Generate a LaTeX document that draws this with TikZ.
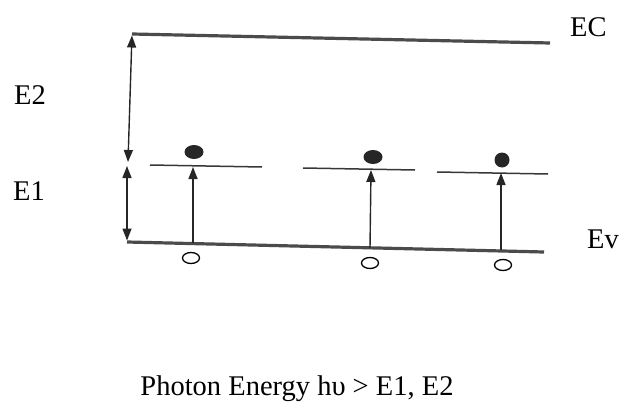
\documentclass[tikz,border=0pt]{standalone}
\usepackage{fontspec}
\setmainfont{Liberation Serif}
\usetikzlibrary{arrows.meta, positioning, shapes.geometric}
\definecolor{bandgray}{RGB}{75, 75, 75}
\definecolor{levelgray}{RGB}{55, 55, 55}

\begin{document}
\begin{tikzpicture}[
      x=1pt, y=-1pt,
      lbl/.style={font=\fontsize{28.5}{32}\selectfont, inner sep=0pt},
      band/.style={line width=3.2pt, draw=bandgray},
      level/.style={line width=1.5pt, draw=levelgray},
      arr/.style={-{Triangle[length=12pt, width=9pt]}, line width=1.4pt, draw=black!85, fill=black!85},
      darr/.style={{Triangle[length=12pt, width=9pt]}-{Triangle[length=12pt, width=9pt]}, line width=1.4pt, draw=black!85, fill=black!85},
      electron/.style={ellipse, fill=black!85, minimum width=19pt, minimum height=14pt, inner sep=0pt},
      hole/.style={ellipse, draw, line width=1.3pt, minimum width=17pt, minimum height=11pt, inner sep=0pt}
    ]
      \useasboundingbox (0,0) rectangle (623,409);

      % band edges
      \coordinate (ec-l) at (132,34);
      \coordinate (ec-r) at (550,43);
      \coordinate (ev-l) at (127,242);
      \coordinate (ev-r) at (544,252);
      \draw[band] (ec-l) -- (ec-r);
      \draw[band] (ev-l) -- (ev-r);

      % impurity levels
      \coordinate (lv1-l) at (150,165);
      \coordinate (lv1-r) at (262,167);
      \coordinate (lv2-l) at (303,168);
      \coordinate (lv2-r) at (415,170);
      \coordinate (lv3-l) at (437,172);
      \coordinate (lv3-r) at (548,174);
      \draw[level] (lv1-l) -- (lv1-r);
      \draw[level] (lv2-l) -- (lv2-r);
      \draw[level] (lv3-l) -- (lv3-r);

      % energy gaps
      \coordinate (gap-a) at (128,162);
      \coordinate (gap-b) at (127,166);
      \draw[darr, shorten <=1.5pt] (ec-l) -- (gap-a);
      \draw[darr, shorten >=1.5pt] (gap-b) -- (ev-l);

      % electrons, holes and transitions
      \node[electron] (e1) at (194,152) {};
      \node[electron] (e2) at (373,157) {};
      \node[electron, minimum width=15pt, minimum height=15pt] (e3) at (502,160) {};
      \node[hole] (h1) at (191,258) {};
      \node[hole] (h2) at (370,263) {};
      \node[hole] (h3) at (503,265) {};
      \coordinate (t1-b) at (193,243);
      \coordinate (t1-t) at (193,167);
      \coordinate (t2-b) at (370,248);
      \coordinate (t2-t) at (371,170);
      \coordinate (t3-b) at (501,250);
      \coordinate (t3-t) at (501,173);
      \draw[arr] (t1-b) -- (t1-t);
      \draw[arr] (t2-b) -- (t2-t);
      \draw[arr] (t3-b) -- (t3-t);

      % labels
      \node[lbl, anchor=base west] (ec) at (570,37) {EC};
      \node[lbl, anchor=base west] (ev) at (587,248) {Ev};
      \node[lbl, anchor=base west] (lE2) at (14,105) {E2};
      \node[lbl, anchor=base west] (lE1) at (13,200) {E1};
      \node[lbl, anchor=base] (caption) at (297,395) {Photon Energy hυ > E1, E2};
    \end{tikzpicture}
\end{document}
